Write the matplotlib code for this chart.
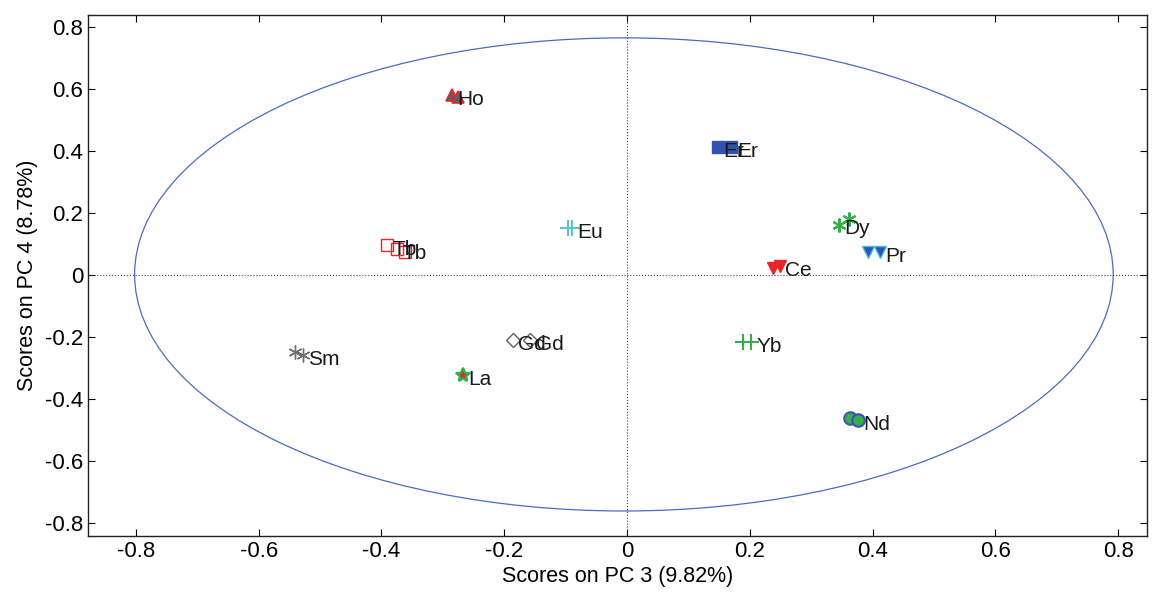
import numpy as np
import matplotlib.pyplot as plt
from matplotlib.patches import Ellipse

plt.rcParams['font.family'] = ['Liberation Sans', 'DejaVu Sans']

# element scores on PC3 / PC4 (replicates)
elements = ['Ho', 'Er', 'Tb', 'Eu', 'Dy', 'Pr', 'Ce', 'Sm', 'Gd', 'La', 'Yb', 'Nd']
pc3 = [[-0.285, -0.275], [0.148, 0.17], [-0.391, -0.375, -0.362], [-0.096, -0.09],
       [0.345, 0.362], [0.393, 0.412], [0.238, 0.249], [-0.541, -0.528],
       [-0.186, -0.158], [-0.267, -0.267], [0.189, 0.202], [0.363, 0.376]]
pc4 = [[0.58, 0.575], [0.413, 0.413], [0.097, 0.084, 0.074], [0.152, 0.152],
       [0.163, 0.18], [0.074, 0.074], [0.023, 0.029], [-0.248, -0.258],
       [-0.21, -0.21], [-0.323, -0.323], [-0.216, -0.216], [-0.461, -0.468]]
# which replicates carry a visible label
label_idx = [[0], [0, 1], [0, 1], [1], [0], [1], [1], [1], [0, 1], [1], [1], [1]]

ellipse_center = (-0.005, 0.002)
ellipse_width = 1.594
ellipse_height = 1.526

asterisk = (6, 2, 0)
styles = {
    'Ho': dict(marker='^', mfc='#5f5f5f', mec='#e8262a', ms=9, mew=1.2),
    'Er': dict(marker='s', mfc='#3152b0', mec='#3152b0', ms=8),
    'Tb': dict(marker='s', mfc='none', mec='#e8262a', ms=8, mew=1),
    'Eu': dict(marker='+', mfc='none', mec='#5cc3cc', ms=11, mew=1.5),
    'Dy': dict(marker=asterisk, mfc='none', mec='#33b04a', ms=10, mew=1.5),
    'Pr': dict(marker='v', mfc='#3152b0', mec='#3ec0e0', ms=9, mew=1),
    'Ce': dict(marker='v', mfc='#e8262a', mec='#e8262a', ms=9),
    'Sm': dict(marker=asterisk, mfc='none', mec='#707070', ms=10, mew=1),
    'Gd': dict(marker='D', mfc='none', mec='#606060', ms=7, mew=1),
    'La': dict(marker='*', mfc='#e8262a', mec='#33b04a', ms=10, mew=1.5),
    'Yb': dict(marker='+', mfc='none', mec='#33b04a', ms=11, mew=1.5),
    'Nd': dict(marker='o', mfc='#33b04a', mec='#4050b0', ms=9, mew=1.5),
}

fig = plt.figure(figsize=(11.59, 5.97), dpi=100)
ax = fig.add_axes([0.0759, 0.102, 0.9137, 0.873])

ax.axhline(0, color='#444444', lw=0.8, ls=':')
ax.axvline(0, color='#444444', lw=0.8, ls=':')
ax.add_patch(Ellipse(ellipse_center, ellipse_width, ellipse_height,
                     fill=False, ec='#4a6cc0', lw=0.9))

for name, xs, ys, idx in zip(elements, pc3, pc4, label_idx):
    ax.plot(xs, ys, ls='none', **styles[name])
    for i in idx:
        ax.annotate(name, (xs[i], ys[i]), xytext=(4, -3), textcoords='offset points',
                    va='center', ha='left', fontsize=15, color='#1a1a1a')

ticks = np.arange(-0.8, 0.81, 0.2)
tick_labels = ['-0.8', '-0.6', '-0.4', '-0.2', '0', '0.2', '0.4', '0.6', '0.8']
ax.set_xlim(-0.878, 0.847)
ax.set_ylim(-0.842, 0.839)
ax.set_xticks(ticks)
ax.set_yticks(ticks)
ax.set_xticklabels(tick_labels)
ax.set_yticklabels(tick_labels)
ax.tick_params(direction='in', length=5, labelsize=16, top=True, right=True, width=0.8)
for s in ax.spines.values():
    s.set_linewidth(1.0)
    s.set_color('#222222')
ax.set_xlabel('Scores on PC 3 (9.82%)', fontsize=15.5, labelpad=3)
ax.set_ylabel('Scores on PC 4 (8.78%)', fontsize=15.5, labelpad=5)

fig.savefig('out.png', dpi=100)
